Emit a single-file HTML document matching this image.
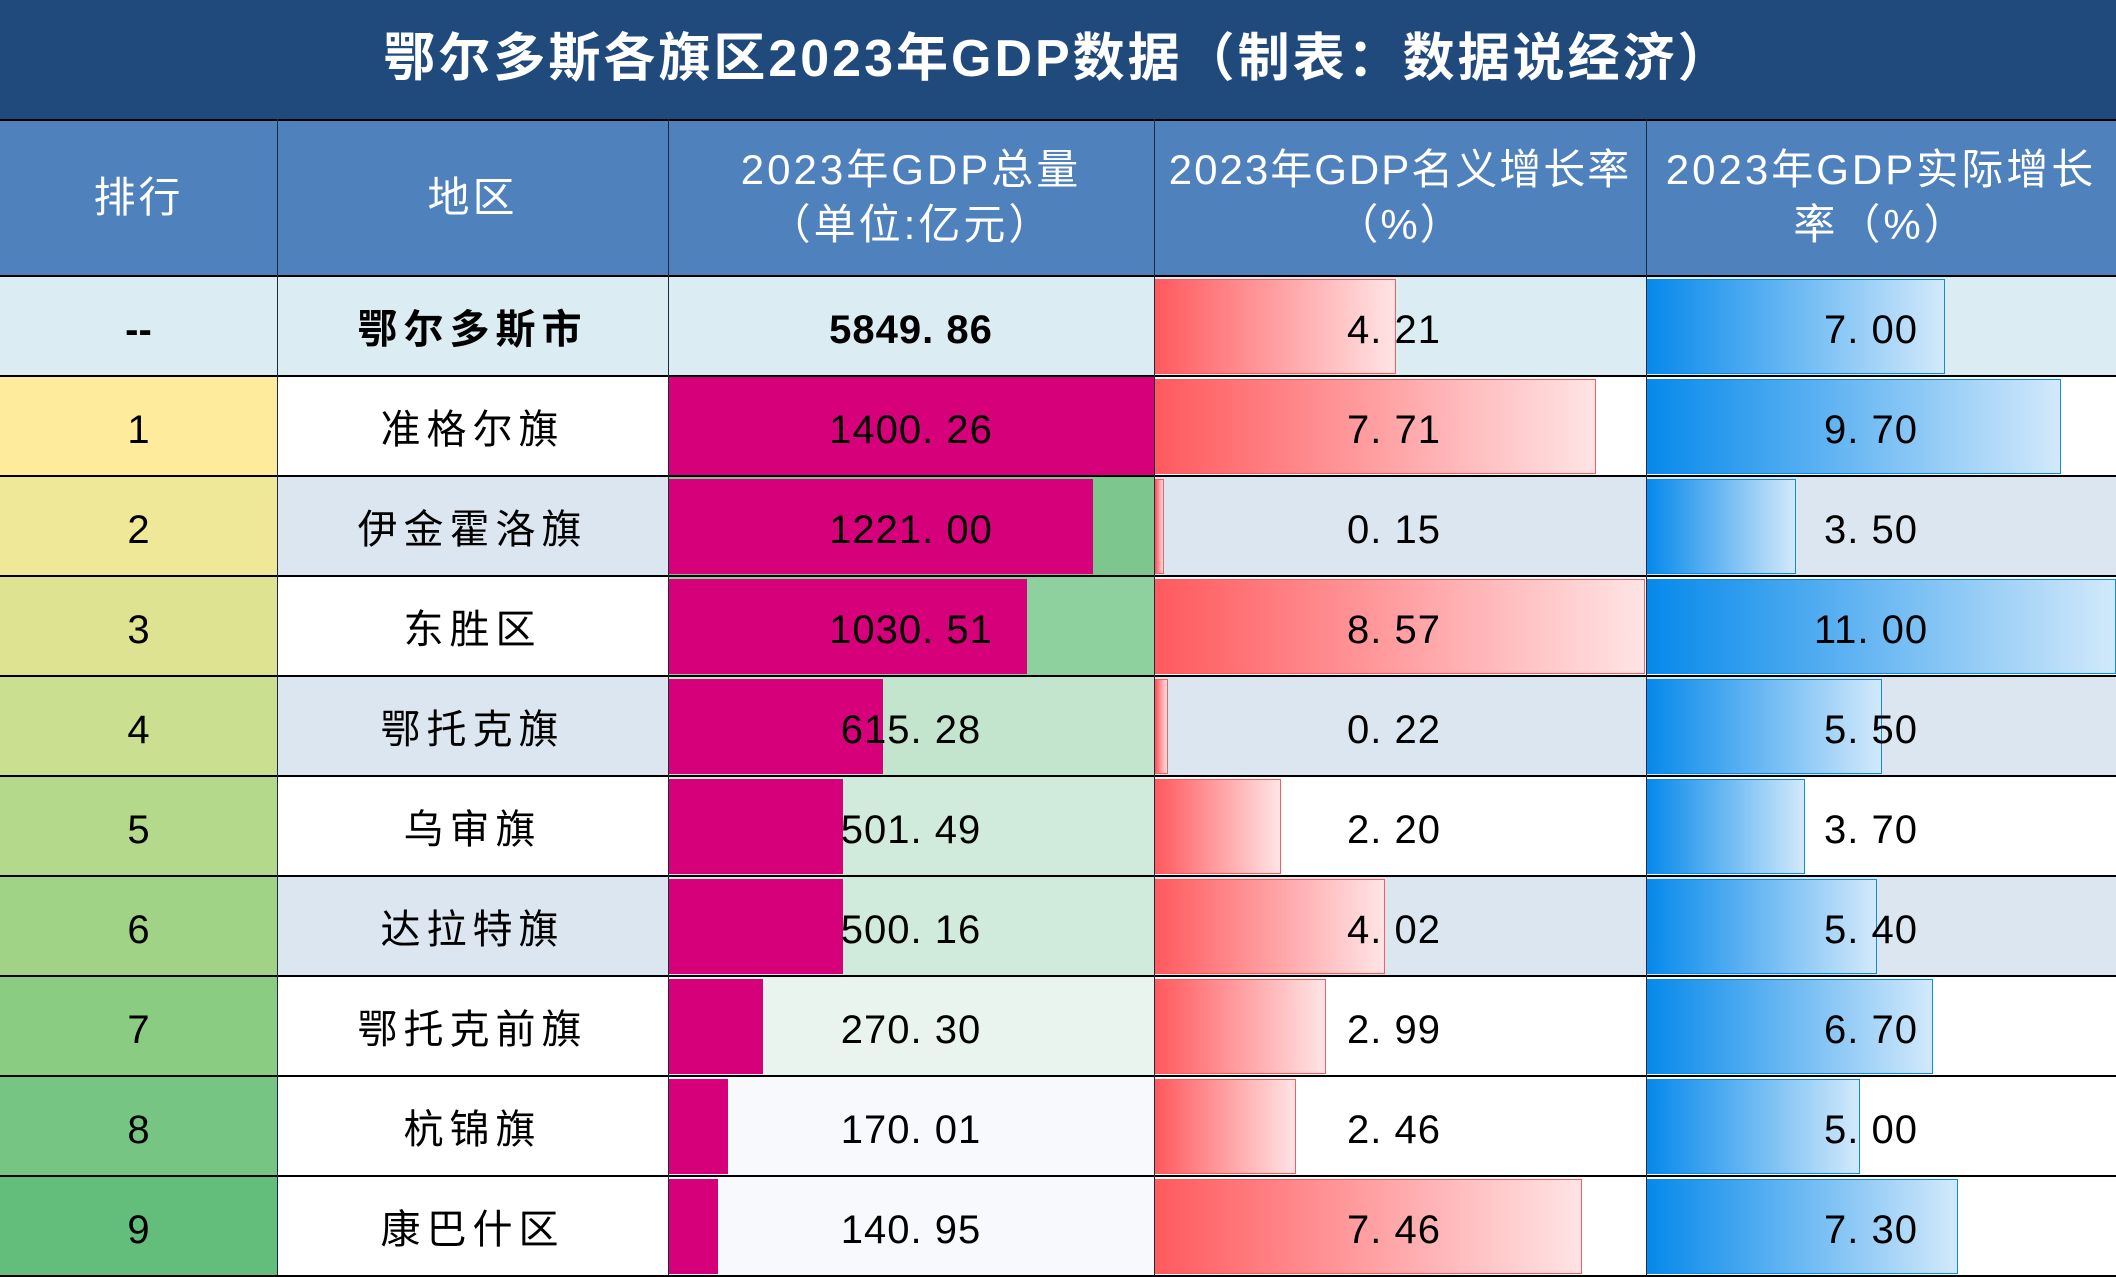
<!DOCTYPE html>
<html><head><meta charset="utf-8"><style>
body{margin:0;width:2116px;height:1277px;overflow:hidden;background:#fff;font-family:"Liberation Sans","Noto Sans CJK SC",sans-serif;}
.a{position:absolute;box-sizing:border-box;}
.t{position:absolute;display:flex;align-items:center;justify-content:center;text-align:center;font-size:40px;color:#000;line-height:1.3;padding-top:8px;box-sizing:border-box;}
.h{color:#fff;font-size:42px;letter-spacing:3px;padding-top:0}
</style></head><body>
<div class="a" style="left:0;top:0;width:2116px;height:119px;background:#20497c"></div>
<div class="t" style="left:0;top:0;width:2116px;height:119px;color:#fff;font-weight:bold;font-size:52px;letter-spacing:3px;padding-top:0">鄂尔多斯各旗区2023年GDP数据（制表：数据说经济）</div>
<div class="a" style="left:0;top:119px;width:2116px;height:157px;background:#4f81bd;border-top:2px solid #000"></div>
<div class="t h" style="left:0;top:120px;width:277px;height:156px">排行</div>
<div class="t h" style="left:277px;top:120px;width:391px;height:156px">地区</div>
<div class="t h" style="left:668px;top:120px;width:486px;height:156px">2023年GDP总量<br>（单位:亿元）</div>
<div class="t h" style="left:1154px;top:120px;width:492px;height:156px;letter-spacing:2px">2023年GDP名义增长率<br>（%）</div>
<div class="t h" style="left:1646px;top:120px;width:470px;height:156px">2023年GDP实际增长<br>率（%）</div>
<div id="rows"></div>
<script>
var R=[["--","鄂尔多斯市","5849.86",4.21,7.00,"#dbedf3","#dbedf3","#dbedf3"],
["1","准格尔旗",1400.26,7.71,9.70,"#ffeb9c","#fff","#d6007b"],
["2","伊金霍洛旗",1221.00,0.15,3.50,"#eee898","#dce6f0","#7dc68e"],
["3","东胜区",1030.51,8.57,11.00,"#dde390","#fff","#8fd19e"],
["4","鄂托克旗",615.28,0.22,5.50,"#cadf8f","#dce6f0","#c3e4cd"],
["5","乌审旗",501.49,2.20,3.70,"#b5d98a","#fff","#d0eadb"],
["6","达拉特旗",500.16,4.02,5.40,"#a0d386","#dce6f0","#d0eadb"],
["7","鄂托克前旗",270.30,2.99,6.70,"#8bcc83","#fff","#eaf4ef"],
["8","杭锦旗",170.01,2.46,5.00,"#77c582","#fff","#f7f9fc"],
["9","康巴什区",140.95,7.46,7.30,"#63be7b","#fff","#f7f9fc"]];
var h="";
R.forEach(function(r,i){
 var y=276+i*100, bg=r[6];
 h+='<div class="a" style="left:0;top:'+y+'px;width:2116px;height:100px;background:'+bg+'"></div>';
 h+='<div class="a" style="left:0;top:'+y+'px;width:277px;height:100px;background:'+r[5]+'"></div>';
 h+='<div class="a" style="left:668px;top:'+y+'px;width:486px;height:100px;background:'+(i==0?bg:r[7])+'"></div>';
 if(i>0){var w=r[2]/1400.26*486;h+='<div class="a" style="left:669px;top:'+(y+3)+'px;width:'+w+'px;height:95px;background:#d6007b"></div>';}
 var rw=r[3]/8.57*490;
 h+='<div class="a" style="left:1155px;top:'+(y+3)+'px;width:'+Math.max(rw,6)+'px;height:95px;border:1.5px solid #ff5b5f;background:linear-gradient(90deg,#ff5a5e,#ffe4e5)"></div>';
 var bw=r[4]/11*469;
 h+='<div class="a" style="left:1647px;top:'+(y+3)+'px;width:'+bw+'px;height:95px;border:1.5px solid #0a8cec;background:linear-gradient(90deg,#0689eb,#d2e9fb)"></div>';
 var st=i==0?'font-weight:bold;':'';
 h+='<div class="t" style="left:0;top:'+y+'px;width:277px;height:100px;'+st+'">'+r[0]+'</div>';
 h+='<div class="t" style="left:277px;top:'+y+'px;width:391px;height:100px;letter-spacing:6px;'+st+'">'+r[1]+'</div>';
 var g=typeof r[2]=="number"?r[2].toFixed(2):r[2];
 h+='<div class="t" style="left:668px;top:'+y+'px;width:486px;height:100px;letter-spacing:1px;'+st+'">'+g.replace(".",". ")+'</div>';
 h+='<div class="t" style="left:1154px;top:'+y+'px;width:480px;height:100px;letter-spacing:1px">'+r[3].toFixed(2).replace(".",". ")+'</div>';
 h+='<div class="t" style="left:1646px;top:'+y+'px;width:450px;height:100px;letter-spacing:1px">'+r[4].toFixed(2).replace(".",". ")+'</div>';
 h+='<div class="a" style="left:0;top:'+(y-1)+'px;width:2116px;height:2px;background:#000"></div>';
});
[277,668,1154,1646].forEach(function(x){h+='<div class="a" style="left:'+x+'px;top:119px;width:1px;height:1158px;background:#1a2a40"></div>';});
h+='<div class="a" style="left:0;top:1275px;width:2116px;height:2px;background:#000"></div>';
document.getElementById("rows").innerHTML=h;
</script>
</body></html>
